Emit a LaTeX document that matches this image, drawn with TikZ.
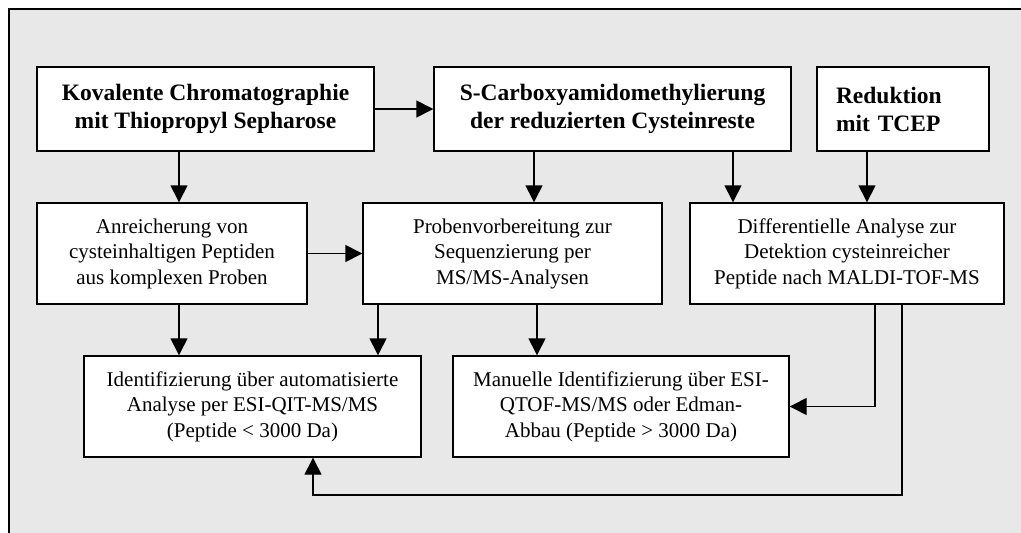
\documentclass[tikz,border=0pt]{standalone}
\usepackage{fontspec}
\setmainfont{Liberation Serif}
\usetikzlibrary{arrows.meta}
\definecolor{panel}{HTML}{E8E8E8}
\tikzset{
  box/.style={draw=black, line width=1.4pt, fill=white, inner sep=0pt,
    align=center, font=\fontsize{21}{25.5}\selectfont},
  headbox/.style={box, font=\fontsize{23.5}{28}\selectfont\bfseries},
  arr/.style={line width=1.4pt, -{Triangle[length=17pt,width=17pt]}},
  frameline/.style={line width=1.6pt, line cap=rect}
}
\begin{document}
\begin{tikzpicture}[x=1pt, y=-1pt]
  \useasboundingbox (0,0) rectangle (1021,533);
  % shaded panel with its top and left border
  \fill[panel] (9,9) rectangle (1021,533);
  \draw[frameline] (1021,9) -- (9,9) -- (9,533);

  % top row
  \node[headbox, minimum width=337pt, minimum height=84pt] (b1) at (205.5,109)
    {Kovalente Chromatographie\\mit Thiopropyl Sepharose};
  \node[headbox, minimum width=357pt, minimum height=84pt] (b2) at (612.5,109)
    {S-Carboxyamidomethylierung\\der reduzierten Cysteinreste};
  \node[headbox, minimum height=84pt, text width=134pt, inner xsep=19pt, align=left] (b3) at (903,109)
    {Reduktion\\mit TCEP};

  % middle row
  \node[box, minimum width=270pt, minimum height=101pt] (b4) at (172,253.5)
    {Anreicherung von\\cysteinhaltigen Peptiden\\aus komplexen Proben};
  \node[box, minimum width=299pt, minimum height=101pt] (b5) at (512.5,253.5)
    {Probenvorbereitung zur\\Sequenzierung per\\MS/MS-Analysen};
  \node[box, minimum width=314pt, minimum height=101pt] (b6) at (847,253.5)
    {Differentielle Analyse zur\\Detektion cysteinreicher\\Peptide nach MALDI-TOF-MS};

  % bottom row
  \node[box, minimum width=337pt, minimum height=101pt] (b7) at (252.5,406.5)
    {Identifizierung über automatisierte\\Analyse per ESI-QIT-MS/MS\\(Peptide < 3000 Da)};
  \node[box, minimum width=336pt, minimum height=101pt] (b8) at (621,406.5)
    {Manuelle Identifizierung über ESI-\\QTOF-MS/MS oder Edman-\\Abbau (Peptide > 3000 Da)};

  % column positions of the vertical connectors
  \coordinate (xa) at (179,0);
  \coordinate (xb) at (534,0);
  \coordinate (xc) at (733,0);
  \coordinate (xd) at (867,0);
  \coordinate (xe) at (378,0);
  \coordinate (xf) at (537,0);
  \coordinate (xg) at (875,0);
  \coordinate (xh) at (902,0);
  \coordinate (xi) at (313,0);
  \coordinate (yb) at (0,495);

  % connectors
  \draw[arr] (b1) -- (b2);
  \draw[arr] (b4) -- (b5);
  \draw[arr] (b1.south -| xa) -- (b4.north -| xa);
  \draw[arr] (b2.south -| xb) -- (b5.north -| xb);
  \draw[arr] (b2.south -| xc) -- (b6.north -| xc);
  \draw[arr] (b3.south -| xd) -- (b6.north -| xd);
  \draw[arr] (b4.south -| xa) -- (b7.north -| xa);
  \draw[arr] (b5.south -| xe) -- (b7.north -| xe);
  \draw[arr] (b5.south -| xf) -- (b8.north -| xf);
  \draw[arr] (b6.south -| xg) |- (b8.east);
  \draw[arr] (b6.south -| xh) -- (xh |- yb) -- (xi |- yb) -- (b7.south -| xi);
\end{tikzpicture}
\end{document}
